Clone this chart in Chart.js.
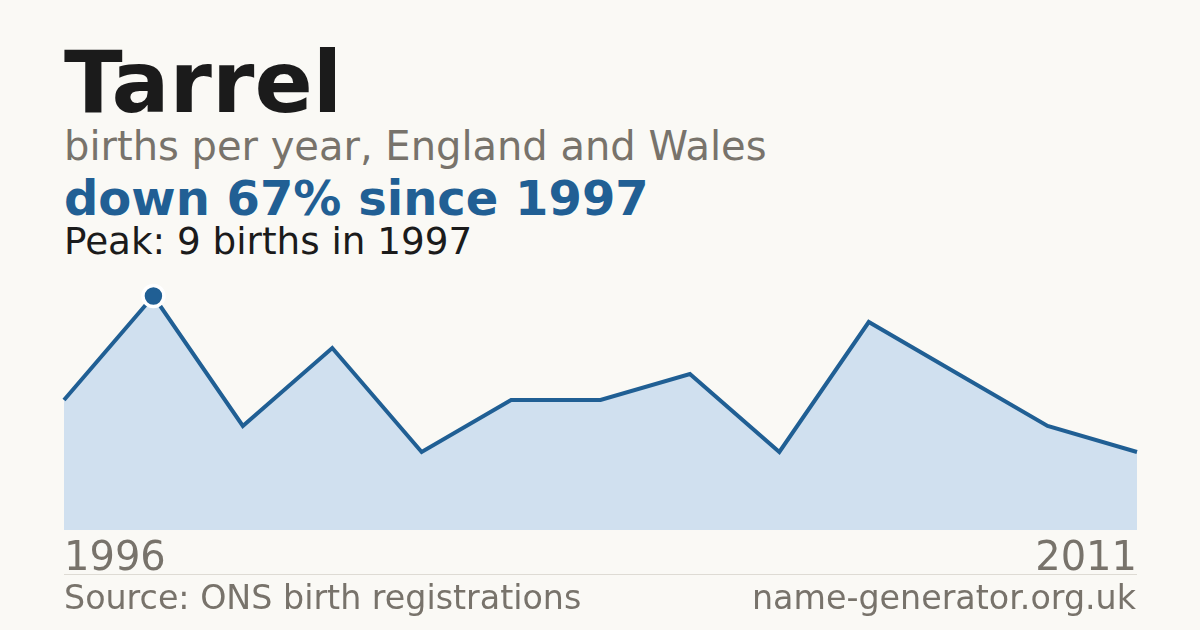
<!DOCTYPE html>
<html>
<head>
<meta charset="utf-8">
<script src="https://cdn.jsdelivr.net/npm/chart.js@4"></script>
<style>
  html, body { margin: 0; padding: 0; }
  body {
    width: 1200px; height: 630px; overflow: hidden;
    background: #faf9f5;
    font-family: "DejaVu Sans", sans-serif;
    position: relative;
  }
  .txt { position: absolute; left: 64px; white-space: nowrap; margin: 0; line-height: 1; }
  #title { top: 39px; font-size: 86px; font-weight: bold; color: #1b1b1b; }
  #sub { top: 126px; font-size: 40px; color: #78736b; }
  #headline { top: 174px; font-size: 48px; font-weight: bold; color: #215f94; }
  #peak { top: 223px; font-size: 37.3px; color: #1b1b1b; }
  /* the x scale keeps its tick padding as side inset, so the box is widened by it */
  #chartBox { position: absolute; left: 58px; top: 270px; width: 1085px; height: 310px; }
  #rule { position: absolute; left: 64px; top: 574px; width: 1073px; height: 1px; background: #dedbd4; }
  .foot { position: absolute; top: 581px; font-size: 33.3px; color: #78736b; white-space: nowrap; line-height: 1; }
  #src { left: 64px; }
  #site { right: 64px; }
</style>
</head>
<body>
<div class="txt" id="title">Tarrel</div>
<div class="txt" id="sub">births per year, England and Wales</div>
<div class="txt" id="headline">down 67% since 1997</div>
<div class="txt" id="peak">Peak: 9 births in 1997</div>
<div id="chartBox"><canvas id="chart"></canvas></div>
<div id="rule"></div>
<div class="foot" id="src">Source: ONS birth registrations</div>
<div class="foot" id="site">name-generator.org.uk</div>
<script>
// Data
const years = ['1996', '1997', '1998', '1999', '2000', '2001', '2002', '2003', '2004', '2006', '2008', '2010', '2011'];
const births = [5, 9, 4, 7, 3, 5, 5, 6, 3, 8, 6, 4, 3];
const peakYear = '1997';

const blue = '#205f94';
const peakIdx = years.indexOf(peakYear);

const ctx = document.getElementById('chart').getContext('2d');
new Chart(ctx, {
    type: 'line',
    data: {
        labels: years,
        datasets: [{
            data: births,
            borderColor: blue,
            backgroundColor: '#d0e0ef',
            borderWidth: 4,
            fill: 'origin',
            tension: 0,
            pointRadius: births.map((v, i) => i === peakIdx ? 10.5 : 0),
            pointBackgroundColor: blue,
            pointBorderColor: '#ffffff',
            pointBorderWidth: 3.5,
            clip: false
        }]
    },
    options: {
        responsive: true,
        maintainAspectRatio: false,
        animation: false,
        layout: { padding: 0, autoPadding: false },
        plugins: {
            legend: { display: false },
            tooltip: { enabled: false }
        },
        scales: {
            x: {
                offset: false,
                grid: { display: false, drawTicks: false },
                border: { display: false },
                afterFit: s => { s.height = 50; },
                ticks: {
                    autoSkip: false,
                    maxRotation: 0,
                    align: 'inner',
                    padding: 6,
                    color: '#78736b',
                    font: { family: 'DejaVu Sans', size: 40 },
                    callback: function (val, i) {
                        return (i === 0 || i === years.length - 1) ? years[i] : '';
                    }
                }
            },
            y: {
                display: false,
                min: 0,
                max: 10
            }
        }
    }
});
</script>
</body>
</html>
